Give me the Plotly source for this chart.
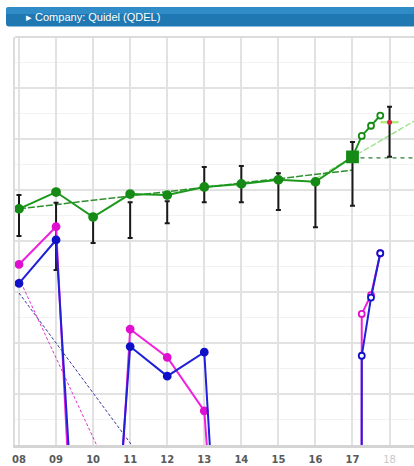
import plotly.graph_objects as go

# ---------------- data (arbitrary value scale, y axis 0..8) ----------------
years = [2008, 2009, 2010, 2011, 2012, 2013, 2014, 2015, 2016, 2017]
proj_x = [2017.25, 2017.5, 2017.75]
tick_years = [2008, 2009, 2010, 2011, 2012, 2013, 2014, 2015, 2016, 2017, 2018]
tick_labels = ["08", "09", "10", "11", "12", "13", "14", "15", "16", "17", "18"]

green_vals = [4.63, 4.96, 4.47, 4.92, 4.90, 5.06, 5.12, 5.20, 5.16, 5.65]
green_proj = [6.06, 6.26, 6.46]

range_years = [2008, 2009, 2010, 2011, 2012, 2013, 2014, 2015, 2016, 2017, 2018]
range_high = [4.90, 4.75, 4.51, 4.76, 4.78, 5.45, 5.47, 5.33, 5.20, 5.94, 6.63]
range_low = [4.10, 3.43, 3.96, 4.06, 4.35, 4.76, 4.76, 4.61, 4.27, 4.69, 5.65]

target_x = [2018]
target_val = [6.33]

green_trend_x = [2008, 2017]
green_trend_y = [4.63, 5.39]
green_flat_x = [2017, 2018.66]
green_flat_y = [5.63, 5.63]
green_proj_trend_x = [2016, 2018.66]
green_proj_trend_y = [5.22, 6.35]

magenta_vals = [3.54, 4.28, -10.0, 2.27, 1.72, 0.67, -9.2, -9.0, -9.0, -300.0]
magenta_proj = [2.57, 2.94, 3.76]
blue_vals = [3.17, 4.02, -8.0, 1.93, 1.35, 1.82, -10.4, -9.0, -9.0, -300.0]
blue_proj = [1.75, 2.89, 3.76]

magenta_trend_x = [2008, 2018]
magenta_trend_y = [3.27, -12.35]
blue_trend_x = [2008, 2018]
blue_trend_y = [2.98, -6.82]

GREEN = "#1c991c"
GREEN_MK = "#158a15"
MAGENTA = "#ee22dd"
MAGENTA_MK = "#e010d0"
BLUE = "#2020d8"
BLUE_MK = "#1010c8"

fig = go.Figure()

# trend lines
fig.add_trace(go.Scatter(x=magenta_trend_x, y=magenta_trend_y, mode="lines",
                         line=dict(color="#dd33cc", width=1, dash="3px,2px"), hoverinfo="skip"))
fig.add_trace(go.Scatter(x=blue_trend_x, y=blue_trend_y, mode="lines",
                         line=dict(color="#3030a0", width=1, dash="3px,2px"), hoverinfo="skip"))
fig.add_trace(go.Scatter(x=green_proj_trend_x, y=green_proj_trend_y, mode="lines",
                         line=dict(color="#8fe07f", width=1.3, dash="6px,2px"), hoverinfo="skip"))
fig.add_trace(go.Scatter(x=green_trend_x, y=green_trend_y, mode="lines",
                         line=dict(color="#2f8f2f", width=1.5, dash="7px,2px"), hoverinfo="skip"))
fig.add_trace(go.Scatter(x=green_flat_x, y=green_flat_y, mode="lines",
                         line=dict(color="#2e7d32", width=1.2, dash="4px,4px"), hoverinfo="skip"))

# range (error) bars
err_len = [h - l for h, l in zip(range_high, range_low)]
fig.add_trace(go.Scatter(x=range_years, y=range_low, mode="markers",
                         marker=dict(size=1, color="rgba(0,0,0,0)"),
                         error_y=dict(type="data", symmetric=False, array=err_len,
                                      arrayminus=[0] * len(err_len),
                                      color="#1a1a1a", thickness=2, width=2.5),
                         hoverinfo="skip"))

# green main series
gx = years + proj_x
gy = green_vals + green_proj
g_sym = ["circle"] * 9 + ["square"] + ["circle"] * 3
g_size = [8] * 9 + [11] + [6] * 3
g_fill = [GREEN_MK] * 10 + ["white"] * 3
fig.add_trace(go.Scatter(x=gx, y=gy, mode="lines+markers",
                         line=dict(color=GREEN, width=2),
                         marker=dict(symbol=g_sym, size=g_size, color=g_fill, opacity=1,
                                     line=dict(color=GREEN_MK, width=1.8)),
                         hoverinfo="skip"))

# target marker
fig.add_trace(go.Scatter(x=target_x, y=target_val, mode="markers",
                         marker=dict(symbol="line-ew-open", size=13,
                                     line=dict(color="#dd2244", width=2.5)),
                         hoverinfo="skip"))
fig.add_trace(go.Scatter(x=target_x, y=target_val, mode="markers",
                         marker=dict(symbol="circle", size=5, color="#dd2244"),
                         hoverinfo="skip"))

# magenta and blue series
mx = years + proj_x
my = magenta_vals + magenta_proj
bx = years + proj_x
by = blue_vals + blue_proj
fills_m = [MAGENTA_MK] * 10 + ["white"] * 3
fills_b = [BLUE_MK] * 10 + ["white"] * 3
sizes = [7] * 10 + [6] * 3
fig.add_trace(go.Scatter(x=mx, y=my, mode="lines+markers",
                         line=dict(color=MAGENTA, width=2),
                         marker=dict(size=sizes, color=fills_m, opacity=1,
                                     line=dict(color=MAGENTA_MK, width=1.8)),
                         hoverinfo="skip"))
fig.add_trace(go.Scatter(x=bx, y=by, mode="lines+markers",
                         line=dict(color=BLUE, width=2),
                         marker=dict(size=sizes, color=fills_b, opacity=1,
                                     line=dict(color=BLUE_MK, width=1.8)),
                         hoverinfo="skip"))

# ---------------- layout ----------------
W, H = 414, 466
ml, mr, mt, mb = 15, 0, 37, 21
pw, ph = W - ml - mr, H - mt - mb


def px_x(v):
    return (v - ml) / pw


def px_y(v):
    return (H - mb - v) / ph


x0, x1 = px_x(6), px_x(416)
y_top, y_bot = px_y(7), px_y(26.5)
dx, dy = 3 / pw, 3 / ph
header_path = (f"M {x0+dx},{y_top} L {x1},{y_top} L {x1},{y_bot} L {x0+dx},{y_bot} "
               f"Q {x0},{y_bot} {x0},{y_bot+dy} L {x0},{y_top-dy} Q {x0},{y_top} {x0+dx},{y_top} Z")
y_mid = px_y(14)
hi_path = (f"M {x0+dx},{y_top} L {x1},{y_top} L {x1},{y_mid} L {x0},{y_mid} "
           f"L {x0},{y_top-dy} Q {x0},{y_top} {x0+dx},{y_top} Z")

tick_text = [f"<span style='color:#c8c8c8'>{t}</span>" if y == 2018 else f"<b>{t}</b>"
             for y, t in zip(tick_years, tick_labels)]

fig.update_layout(
    width=W, height=H,
    margin=dict(l=ml, r=mr, t=mt, b=mb, pad=0),
    paper_bgcolor="white", plot_bgcolor="white",
    showlegend=False,
    xaxis=dict(range=[2007.892, 2018.66], tickvals=tick_years, ticktext=tick_text,
               showgrid=True, gridcolor="#e2e2e2", gridwidth=2, zeroline=False,
               showline=True, linecolor="#d4d4d4", linewidth=3, ticks="",
               ticklabelstandoff=3,
               tickfont=dict(family="DejaVu Sans, sans-serif", size=10, color="#5a5a5a"),
               fixedrange=True),
    yaxis=dict(range=[0, 8], dtick=1, showticklabels=False, ticks="",
               showgrid=True, gridcolor="#e2e2e2", gridwidth=2, zeroline=False,
               showline=True, linecolor="#dcdcdc", linewidth=2,
               minor=dict(dtick=0.5, showgrid=True, gridcolor="#f2f2f2", gridwidth=1),
               fixedrange=True),
    shapes=[
        dict(type="path", xref="paper", yref="paper", path=header_path,
             fillcolor="#1f78b2", line=dict(width=0), layer="above"),
        dict(type="path", xref="paper", yref="paper", path=hi_path,
             fillcolor="#2f8cc6", line=dict(width=0), layer="above"),
        dict(type="line", xref="paper", yref="paper", x0=0, x1=1, y0=1, y1=1,
             line=dict(color="#dcdcdc", width=2)),
    ],
    annotations=[
        dict(text="▸ Company: Quidel (QDEL)", xref="paper", yref="paper",
             x=px_x(24), y=px_y(17), xanchor="left", yanchor="middle", showarrow=False,
             font=dict(family="Liberation Sans, Arial, sans-serif",
                       size=11, color="white")),
    ],
)

fig.write_html("out.html", config={"displayModeBar": False},
               post_script="document.body.style.margin='0';document.body.style.padding='0';")
